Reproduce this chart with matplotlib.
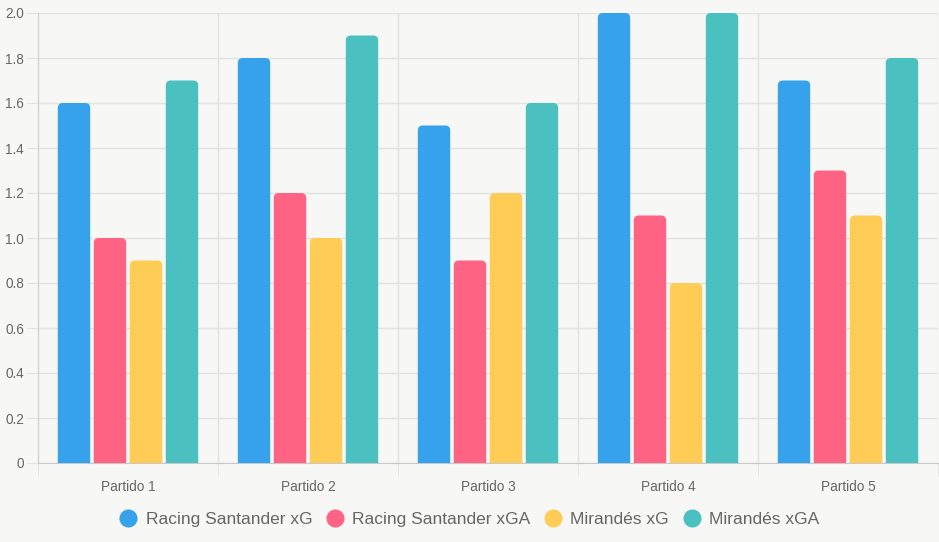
import numpy as np
import matplotlib.pyplot as plt
from matplotlib.patches import FancyBboxPatch
from matplotlib.lines import Line2D

partidos = ['Partido 1', 'Partido 2', 'Partido 3', 'Partido 4', 'Partido 5']
racing_xg = [1.6, 1.8, 1.5, 2.0, 1.7]
racing_xga = [1.0, 1.2, 0.9, 1.1, 1.3]
mirandes_xg = [0.9, 1.0, 1.2, 0.8, 1.1]
mirandes_xga = [1.7, 1.9, 1.6, 2.0, 1.8]
y_ticks = [0, 0.2, 0.4, 0.6, 0.8, 1.0, 1.2, 1.4, 1.6, 1.8, 2.0]
y_labels = ['0', '0.2', '0.4', '0.6', '0.8', '1.0', '1.2', '1.4', '1.6', '1.8', '2.0']

series = [
    ('Racing Santander xG', racing_xg, '#36A2EB'),
    ('Racing Santander xGA', racing_xga, '#FF6384'),
    ('Mirandés xG', mirandes_xg, '#FFCD56'),
    ('Mirandés xGA', mirandes_xga, '#4BC0C0'),
]

bg = '#f7f7f5'
txt = '#666666'
grid = '#e2e2e0'

plt.rcParams['font.family'] = ['Liberation Sans', 'DejaVu Sans']

fig = plt.figure(figsize=(9.39, 5.42), dpi=100, facecolor=bg)
ax = fig.add_axes([38 / 939, 79 / 542, 900 / 939, 450 / 542])
ax.set_facecolor(bg)

x = np.arange(len(partidos))
bar_w = 0.18
offsets = [-0.3, -0.1, 0.1, 0.3]
# radio en unidades de datos (x: 180 px por unidad, y: 225 px por unidad)
rx = 5 / 180
aspect = (5 / 225) / rx

for (name, vals, col), off in zip(series, offsets):
    for xi, v in zip(x, vals):
        left = xi + off - bar_w / 2
        p = FancyBboxPatch((left, -0.1), bar_w, v + 0.1,
                           boxstyle=f"round,pad=0,rounding_size={rx}",
                           mutation_aspect=aspect,
                           facecolor=col, edgecolor='none', zorder=3)
        ax.add_patch(p)

ax.set_xlim(-0.5, len(partidos) - 0.5)
ax.set_ylim(0, 2.0)

ax.set_yticks(y_ticks)
ax.set_yticklabels(y_labels)
ax.set_xticks(x)
ax.set_xticklabels(partidos)
ax.set_xticks(np.arange(-0.5, len(partidos)), minor=True)

ax.tick_params(axis='y', length=8, color=grid, labelcolor=txt, labelsize=9.8, pad=2)
ax.tick_params(axis='x', which='major', length=0, labelcolor=txt, labelsize=9.8, pad=12)
ax.tick_params(axis='x', which='minor', length=9, color=grid)

ax.grid(True, axis='y', color=grid, linewidth=1, zorder=0)
ax.grid(True, axis='x', which='minor', color=grid, linewidth=1, zorder=0)
ax.set_axisbelow(True)

for s in ['top', 'right']:
    ax.spines[s].set_visible(False)
ax.spines['left'].set_color('#d0d0d0')
ax.spines['bottom'].set_color('#c8c8c8')

handles = [Line2D([0], [0], marker='o', linestyle='none', markersize=12,
                  markerfacecolor=col, markeredgecolor=col) for _, _, col in series]
fig.legend(handles, [s[0] for s in series], loc='center', bbox_to_anchor=(0.5, 23 / 542),
           ncol=4, frameon=False, fontsize=12.5, labelcolor=txt,
           handletextpad=0.5, columnspacing=0.8, handlelength=1.0)

fig.savefig('out.png', dpi=100, facecolor=bg)
